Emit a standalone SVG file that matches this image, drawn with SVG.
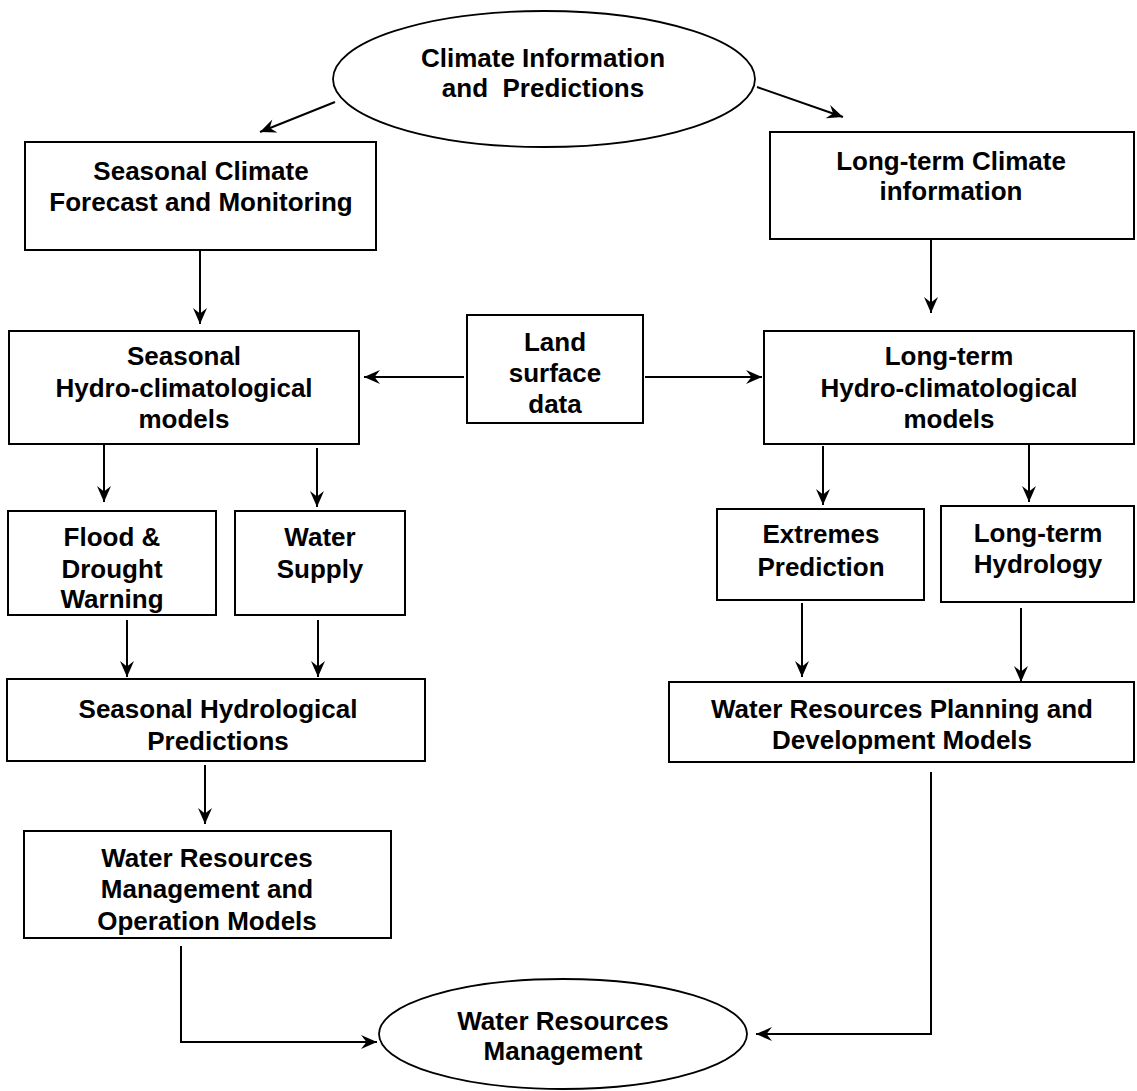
<svg xmlns="http://www.w3.org/2000/svg" width="1137" height="1091" viewBox="0 0 1137 1091">
<defs>
<style>
.box{fill:#fff;stroke:#000;stroke-width:2}
.ell{fill:#fff;stroke:#000;stroke-width:1.8}
.t{font-family:"Liberation Sans",Arial,sans-serif;font-weight:bold;font-size:26px;fill:#000;text-anchor:middle}
.c{fill:none;stroke:#000;stroke-width:2}
.a{marker-end:url(#ah)}
</style>
<marker id="ah" viewBox="-17 -8 19 16" refX="0" refY="0" markerWidth="19" markerHeight="16" markerUnits="userSpaceOnUse" orient="auto">
<path d="M0,0 L-16,-7 L-10.5,0 L-16,7 Z" fill="#000"/>
</marker>
</defs>
<rect width="1137" height="1091" fill="#fff"/>
<g id="connectors">
<line class="c a" x1="335" y1="102" x2="260" y2="132"/>
<line class="c a" x1="757" y1="87" x2="843" y2="117"/>
<line class="c a" x1="200" y1="250" x2="200" y2="324"/>
<line class="c a" x1="931" y1="239" x2="931" y2="313"/>
<line class="c a" x1="464" y1="377" x2="364" y2="377"/>
<line class="c a" x1="645" y1="377" x2="762" y2="377"/>
<line class="c a" x1="104" y1="444" x2="104" y2="502"/>
<line class="c a" x1="317" y1="448" x2="317" y2="507"/>
<line class="c a" x1="823" y1="446" x2="823" y2="505"/>
<line class="c a" x1="1029" y1="443" x2="1029" y2="502"/>
<line class="c a" x1="127" y1="620" x2="127" y2="677"/>
<line class="c a" x1="318" y1="620" x2="318" y2="677"/>
<line class="c a" x1="802" y1="603" x2="802" y2="677"/>
<line class="c a" x1="1021" y1="608" x2="1021" y2="682"/>
<line class="c a" x1="205" y1="765" x2="205" y2="824"/>
<polyline class="c a" points="181,946 181,1042 377,1042"/>
<polyline class="c a" points="931,772 931,1034 756,1034"/>
</g>
<g id="climate-info">
<ellipse class="ell" cx="544" cy="79" rx="211" ry="68"/>
<text class="t" x="543" y="67">Climate Information</text>
<text class="t" x="543" y="97" xml:space="preserve">and  Predictions</text>
</g>
<g id="seasonal-forecast">
<rect class="box" x="25" y="142" width="351" height="108"/>
<text class="t" x="201" y="180">Seasonal Climate</text>
<text class="t" x="201" y="211">Forecast and Monitoring</text>
</g>
<g id="longterm-climate">
<rect class="box" x="770" y="132" width="364" height="107"/>
<text class="t" x="951" y="170">Long-term Climate</text>
<text class="t" x="951" y="200">information</text>
</g>
<g id="seasonal-hydro-models">
<rect class="box" x="9" y="331" width="350" height="113"/>
<text class="t" x="184" y="365">Seasonal</text>
<text class="t" x="184" y="397">Hydro-climatological</text>
<text class="t" x="184" y="428">models</text>
</g>
<g id="land-surface">
<rect class="box" x="467" y="315" width="176" height="108"/>
<text class="t" x="555" y="351">Land</text>
<text class="t" x="555" y="382">surface</text>
<text class="t" x="555" y="413">data</text>
</g>
<g id="longterm-hydro-models">
<rect class="box" x="764" y="331" width="370" height="113"/>
<text class="t" x="949" y="365">Long-term</text>
<text class="t" x="949" y="397">Hydro-climatological</text>
<text class="t" x="949" y="428">models</text>
</g>
<g id="flood-drought">
<rect class="box" x="8" y="511" width="208" height="104"/>
<text class="t" x="112" y="546">Flood &amp;</text>
<text class="t" x="112" y="578">Drought</text>
<text class="t" x="112" y="608">Warning</text>
</g>
<g id="water-supply">
<rect class="box" x="235" y="511" width="170" height="104"/>
<text class="t" x="320" y="546">Water</text>
<text class="t" x="320" y="578">Supply</text>
</g>
<g id="extremes">
<rect class="box" x="717" y="509" width="207" height="91"/>
<text class="t" x="821" y="543">Extremes</text>
<text class="t" x="821" y="576">Prediction</text>
</g>
<g id="longterm-hydrology">
<rect class="box" x="941" y="506" width="193" height="96"/>
<text class="t" x="1038" y="542">Long-term</text>
<text class="t" x="1038" y="573">Hydrology</text>
</g>
<g id="seasonal-hydrological-predictions">
<rect class="box" x="7" y="679" width="418" height="82"/>
<text class="t" x="218" y="718">Seasonal Hydrological</text>
<text class="t" x="218" y="750">Predictions</text>
</g>
<g id="planning-models">
<rect class="box" x="669" y="682" width="465" height="80"/>
<text class="t" x="902" y="718">Water Resources Planning and</text>
<text class="t" x="902" y="749">Development Models</text>
</g>
<g id="management-models">
<rect class="box" x="24" y="831" width="367" height="107"/>
<text class="t" x="207" y="867">Water Resources</text>
<text class="t" x="207" y="898">Management and</text>
<text class="t" x="207" y="930">Operation Models</text>
</g>
<g id="water-resources-management">
<ellipse class="ell" cx="563" cy="1034" rx="184" ry="55"/>
<text class="t" x="563" y="1030">Water Resources</text>
<text class="t" x="563" y="1060">Management</text>
</g>
</svg>
